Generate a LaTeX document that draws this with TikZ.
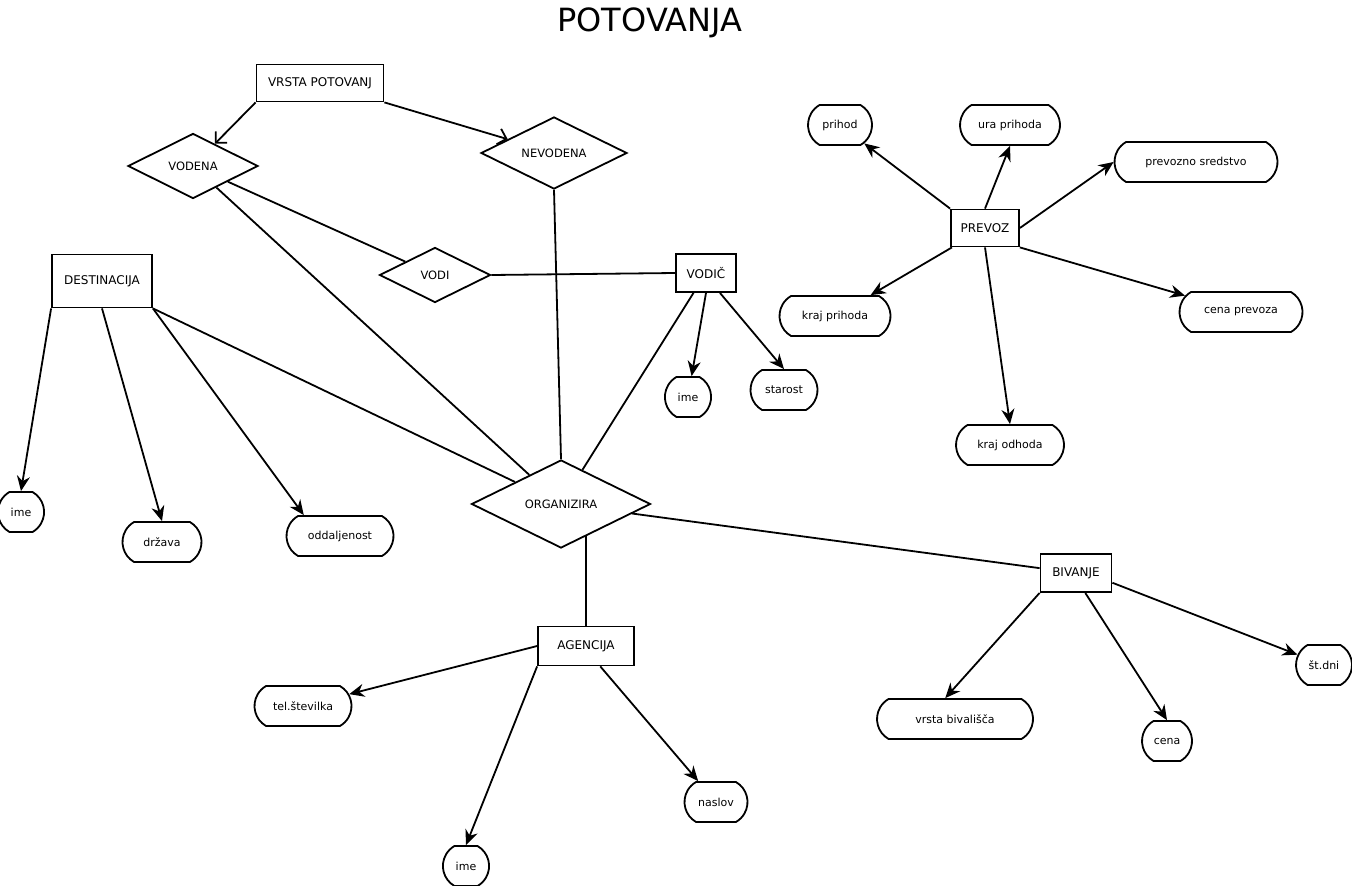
\documentclass[tikz,border=0pt]{standalone}
\usepackage{fontspec}
\setmainfont{DejaVu Sans}
\usetikzlibrary{arrows.meta,calc,positioning,shapes.geometric,shapes.misc}
\pgfdeclarelayer{bg}
\pgfsetlayers{bg,main}
\tikzset{
  font=\fontsize{11}{13}\selectfont,
  entity/.style={draw,fill=white,shape=rectangle,line width=1.8pt,inner sep=1mm,font=\fontsize{12}{14}\selectfont},
  rel/.style={draw,fill=white,shape=diamond,aspect=2,line width=1.8pt,inner sep=0,font=\fontsize{11.5}{14}\selectfont},
  attr/.style={draw,fill=white,shape=rounded rectangle,rounded rectangle arc length=120,line width=1.8pt,minimum height=40pt,inner xsep=0pt},
  link/.style={draw,line width=1.8pt},
  isa/.style={draw,line width=1.8pt,-{Straight Barb[length=8pt,width=16pt]}},
  prop/.style={draw,line width=1.8pt,-{Stealth[length=15pt,width=13pt]}},
}

\begin{document}
\begin{tikzpicture}[x=1pt,y=-1pt]
    \useasboundingbox (0,0) rectangle (1352,886);
    \node (title) at (650,23) {\fontsize{32}{38}\selectfont POTOVANJA};

    % entitete
    \node (vrsta) [entity,minimum width=127pt,minimum height=37pt] at (320,83) {VRSTA POTOVANJ};
    \node (dest) [entity,minimum width=100pt,minimum height=53pt] at (102,281) {DESTINACIJA};
    \node (vodic) [entity,minimum width=60pt,minimum height=38pt] at (706,273) {VODIČ};
    \node (prevoz) [entity,minimum width=68pt,minimum height=37pt] at (985,228) {PREVOZ};
    \node (bivanje) [entity,minimum width=71pt,minimum height=38pt] at (1076,573) {BIVANJE};
    \node (agencija) [entity,minimum width=96pt,minimum height=39pt] at (586,646) {AGENCIJA};

    % relacije
    \node (vodena) [rel,minimum width=130pt,minimum height=65pt] at (193,166) {VODENA};
    \node (nevodena) [rel,minimum width=146pt,minimum height=72pt] at (554,153) {NEVODENA};
    \node (vodi) [rel,minimum width=111pt,minimum height=55pt] at (435,275) {VODI};
    \node (organizira) [rel,minimum width=179pt,minimum height=88pt] at (561,504) {ORGANIZIRA};

    % atributi
    \node (ime1) [attr,minimum width=39pt] at (21,512) {ime};
    \node (drzava) [attr,minimum width=79pt] at (162,542) {država};
    \node (odd) [attr,minimum width=107pt] at (340,536) {oddaljenost};
    \node (ime2) [attr,minimum width=40pt] at (688,397) {ime};
    \node (starost) [attr,minimum width=67pt] at (784,390) {starost};
    \node (prihod) [attr,minimum width=64pt] at (840,125) {prihod};
    \node (ura) [attr,minimum width=100pt] at (1010,125) {ura prihoda};
    \node (sredstvo) [attr,minimum width=163pt] at (1196,162) {prevozno sredstvo};
    \node (krajp) [attr,minimum width=111pt] at (835,316) {kraj prihoda};
    \node (cenap) [attr,minimum width=123pt] at (1241,312) {cena prevoza};
    \node (krajo) [attr,minimum width=108pt] at (1010,445) {kraj odhoda};
    \node (tel) [attr,minimum width=97pt] at (303,706) {tel.številka};
    \node (ime3) [attr,minimum width=40pt] at (466,866) {ime};
    \node (naslov) [attr,minimum width=63pt] at (716,802) {naslov};
    \node (vrstab) [attr,minimum width=156pt] at (955,719) {vrsta bivališča};
    \node (cena) [attr,minimum width=50pt] at (1167,741) {cena};
    \node (stdni) [attr,minimum width=56pt] at (1324,665) {št.dni};

    \begin{pgfonlayer}{bg}
      \path [fill=white] (0,0) rectangle (1352,886);
      \path [isa] (vrsta.south west) -- (vodena);
      \path [isa] (vrsta.south east) -- (nevodena);
      \path [link] (vodena) -- (vodi);
      \path [link] (vodena) -- (organizira);
      \path [link] (nevodena.south) -- (organizira.north);
      \path [link] (vodi.east) -- (vodic.west);
      \path [link] (vodic) -- (organizira);
      \path [link] (dest.south east) -- (organizira);
      \path [link] (organizira) -- (bivanje);
      \path [link] (agencija.north) -- (agencija.north |- organizira.center);

      \path [prop] (dest.south west) -- (ime1.north);
      \path [prop] (dest.south) -- (drzava.north);
      \path [prop] (dest.south east) -- (odd.150);
      \path [prop] (vodic.south) -- (ime2);
      \path [prop] (vodic.-55) -- (starost.north);
      \path [prop] (prevoz.north west) -- (prihod);
      \path [prop] (prevoz.north) -- (ura.south);
      \path [prop] (prevoz.east) -- (sredstvo.west);
      \path [prop] (prevoz) -- (krajp);
      \path [prop] (prevoz.south east) -- (cenap);
      \path [prop] (prevoz.south) -- (krajo.north);
      \path [prop] (agencija.west) -- (tel);
      \path [prop] (agencija.south west) -- (ime3.north);
      \path [prop] (agencija.-55) -- (naslov);
      \path [prop] (bivanje.south west) -- (vrstab.115);
      \path [prop] (bivanje.-65) -- (cena.north);
      \path [prop] (bivanje.-15) -- (stdni);
    \end{pgfonlayer}
\end{tikzpicture}
\end{document}
